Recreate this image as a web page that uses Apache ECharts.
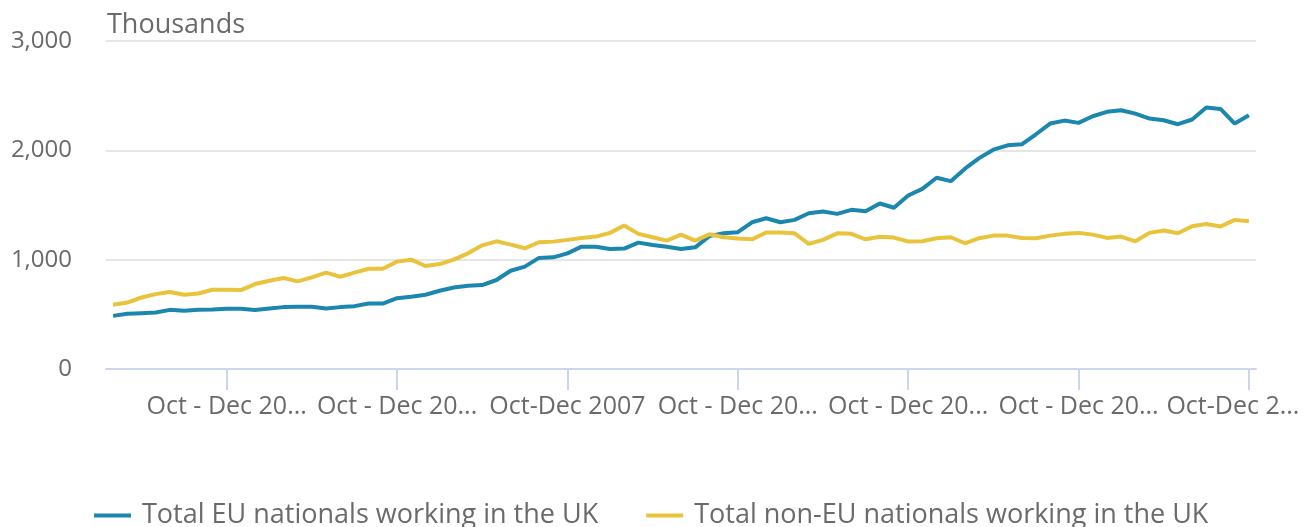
<!DOCTYPE html>
<html>
<head>
<meta charset="utf-8">
<script src="https://cdn.jsdelivr.net/npm/echarts@6/dist/echarts.min.js"></script>
<style>
  html, body { margin: 0; padding: 0; background: #fff; }
  #chart { width: 1311px; height: 527px; }
</style>
</head>
<body>
<div id="chart"></div>
<script>
// quarters shown on the x axis, Oct-Dec 1999 .. Oct-Dec 2019
var quarterNames = ['Jan - Mar', 'Apr - Jun', 'Jul - Sep', 'Oct - Dec'];
var firstYear = 1999;
var lastYear = 2019;
var labelOverrides = { 'Oct - Dec 2007': 'Oct-Dec 2007', 'Oct - Dec 2019': 'Oct-Dec 2019' };

var categories = [];
for (var y = firstYear; y <= lastYear; y++) {
  for (var q = 0; q < 4; q++) {
    if (y === firstYear && q < 3) continue;
    var name = quarterNames[q] + ' ' + y;
    categories.push(labelOverrides[name] || name);
  }
}

// thousands
var euNationals = [
  486, 505, 511, 517, 541, 532, 541, 544, 550, 550, 539, 553, 566, 569,
  569, 553, 566, 575, 599, 599, 648, 661, 679, 716, 746, 761, 768, 814,
  899, 936, 1016, 1021, 1058, 1119, 1119, 1098, 1101, 1156, 1135, 1119, 1098, 1113,
  1215, 1241, 1251, 1342, 1379, 1342, 1364, 1425, 1440, 1419, 1456, 1443, 1514, 1475,
  1587, 1648, 1749, 1718, 1832, 1929, 2006, 2046, 2055, 2147, 2245, 2272, 2251,
  2312, 2352, 2367, 2336, 2291, 2275, 2239, 2282, 2392, 2379, 2245, 2321
];
var nonEuNationals = [
  587, 608, 654, 685, 704, 679, 691, 725, 725, 722, 777, 807, 832, 801,
  838, 881, 844, 881, 917, 917, 982, 1000, 942, 960, 1000, 1058, 1131, 1168,
  1138, 1104, 1159, 1165, 1181, 1199, 1211, 1245, 1312, 1236, 1205, 1174, 1229, 1174,
  1232, 1205, 1193, 1186, 1248, 1248, 1241, 1144, 1181, 1241, 1236, 1186, 1210, 1202,
  1166, 1168, 1196, 1205, 1150, 1196, 1220, 1220, 1199, 1196, 1220, 1236, 1245,
  1229, 1199, 1211, 1168, 1245, 1266, 1241, 1306, 1327, 1303, 1364, 1351
];

var textColor = '#6a6a6a';
var axisColor = '#ccd6eb';
var fontFamily = '"Open Sans", sans-serif';
var showLabel = function (idx) { return idx % 12 === 8; };

var chart = echarts.init(document.getElementById('chart'));
chart.setOption({
  animation: false,
  textStyle: { fontFamily: fontFamily },
  grid: { left: 106, right: 55, top: 41, bottom: 158 },
  legend: {
    top: 497,
    left: 89,
    icon: 'rect',
    itemWidth: 37,
    itemHeight: 4,
    itemGap: 48,
    textStyle: { fontSize: 27, color: textColor, fontFamily: fontFamily, padding: [0, 0, 0, 6] },
    data: ['Total EU nationals working in the UK', 'Total non-EU nationals working in the UK']
  },
  xAxis: {
    type: 'category',
    data: categories,
    boundaryGap: true,
    axisLine: { show: true, lineStyle: { color: axisColor, width: 2 } },
    axisTick: { show: true, alignWithLabel: true, length: 21, lineStyle: { color: axisColor, width: 2 } },
    axisLabel: {
      interval: showLabel,
      margin: 25,
      fontSize: 25,
      color: textColor,
      width: 166,
      overflow: 'truncate',
      ellipsis: '...',
      formatter: function (val, idx) {
        if (idx === categories.length - 1) return '{last|Oct-Dec 2...}';
        return val;
      },
      rich: { last: { fontSize: 25, color: textColor, padding: [0, 32, 0, 0] } }
    }
  },
  yAxis: {
    type: 'value',
    min: 0,
    max: 3000,
    interval: 1000,
    name: 'Thousands',
    nameLocation: 'end',
    nameGap: 2,
    nameTextStyle: { fontSize: 27, color: textColor, align: 'left', padding: [0, 0, 0, 1] },
    axisLine: { show: false },
    axisTick: { show: false },
    axisLabel: {
      margin: 34,
      fontSize: 24,
      color: textColor,
      formatter: function (v) { return v.toLocaleString('en-GB'); }
    },
    splitLine: { lineStyle: { color: '#e6e6e6', width: 2 } }
  },
  series: [
    {
      name: 'Total EU nationals working in the UK',
      type: 'line',
      data: euNationals,
      showSymbol: false,
      lineStyle: { color: '#1b87ae', width: 4 },
      itemStyle: { color: '#1b87ae' }
    },
    {
      name: 'Total non-EU nationals working in the UK',
      type: 'line',
      data: nonEuNationals,
      showSymbol: false,
      lineStyle: { color: '#e8c33b', width: 4 },
      itemStyle: { color: '#e8c33b' }
    }
  ]
});
</script>
</body>
</html>
